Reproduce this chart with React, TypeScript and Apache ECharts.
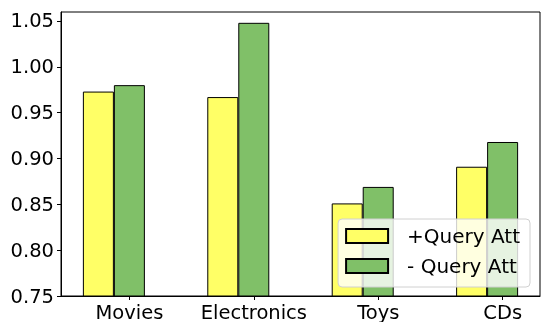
import React, { useEffect, useRef } from "react";
import * as echarts from "echarts";

const categories = ["Movies", "Electronics", "Toys", "CDs"];
const withQueryAtt = [0.973, 0.967, 0.851, 0.891];
const withoutQueryAtt = [0.98, 1.048, 0.869, 0.918];
const yTicks = [0.75, 0.8, 0.85, 0.9, 0.95, 1.0, 1.05];

export default function App() {
  const ref = useRef<HTMLDivElement>(null);
  useEffect(() => {
    if (!ref.current) return;
    const chart = echarts.init(ref.current, null, { renderer: "svg" });
    const font = "DejaVu Sans";
    const catPos = categories.map((_, i) => i + 0.25);
    chart.setOption({
      animation: false,
      textStyle: { fontFamily: font },
      grid: { left: 61, top: 12, right: 1, bottom: 25, show: true, borderColor: "#000", borderWidth: 1, backgroundColor: "transparent" },
      xAxis: {
        type: "value",
        min: -0.3,
        max: 3.55,
        splitLine: { show: false },
        axisLine: { show: true, onZero: false, lineStyle: { color: "#000", width: 1 } },
        axisTick: { show: true, customValues: catPos, length: 4, lineStyle: { color: "#000" } },
        axisLabel: {
          show: true,
          customValues: catPos,
          formatter: (v: number) => {
            const idx = Math.round(v - 0.25);
            return categories[idx] ?? "";
          },
          fontSize: 19.5,
          color: "#000",
          margin: 6,
          fontFamily: font,
        },
      },
      yAxis: {
        type: "value",
        min: 0.75,
        max: 1.0598,
        interval: 0.05,
        splitLine: { show: false },
        axisLine: { show: true, onZero: false, lineStyle: { color: "#000", width: 1 } },
        axisTick: { show: true, customValues: yTicks, length: 4, lineStyle: { color: "#000" } },
        axisLabel: {
          customValues: yTicks,
          formatter: (v: number) => v.toFixed(2),
          fontSize: 19.5,
          color: "#000",
          margin: 7,
          fontFamily: font,
        },
      },
      legend: {
        orient: "vertical",
        right: 11,
        bottom: 35,
        itemWidth: 42,
        itemHeight: 14,
        itemGap: 10,
        padding: [7, 10, 11, 7],
        backgroundColor: "rgba(255,255,255,0.8)",
        borderColor: "#d0d0d0",
        borderWidth: 1,
        borderRadius: 4,
        textStyle: { fontSize: 20, color: "#000", fontFamily: font, padding: [0, 0, 0, 14] },
        data: [
          { name: "+Query Att", icon: "rect" },
          { name: "- Query Att", icon: "rect" },
        ],
        z: 10,
      },
      series: [
        {
          name: "+Query Att",
          type: "bar",
          barWidth: 31,
          barGap: "0%",
          data: withQueryAtt.map((v, i) => [i + 0.125, v]),
          itemStyle: { color: "#ffff66", borderColor: "#000", borderWidth: 1 },
        },
        {
          name: "- Query Att",
          type: "bar",
          barWidth: 31,
          barGap: "0%",
          data: withoutQueryAtt.map((v, i) => [i + 0.125, v]),
          itemStyle: { color: "#80c068", borderColor: "#000", borderWidth: 1 },
        },
      ],
    });
    return () => chart.dispose();
  }, []);
  return <div ref={ref} style={{ position: "fixed", left: 0, top: 0, width: 541, height: 322 }} />;
}
